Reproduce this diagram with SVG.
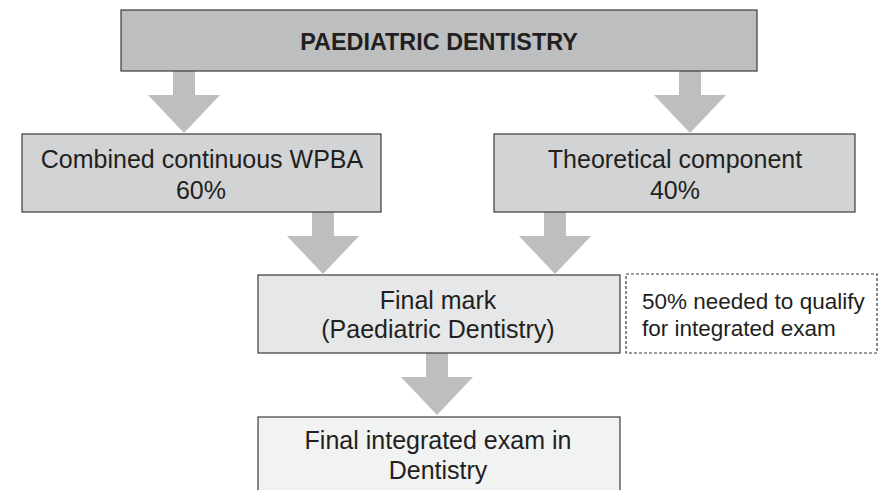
<svg xmlns="http://www.w3.org/2000/svg" width="880" height="490" viewBox="0 0 880 490">
<style>
.box{stroke:#3a3a3a;stroke-width:1.2}
.t{font-family:"Liberation Sans",Arial,sans-serif;font-size:25px;fill:#231f20;text-anchor:middle}
.title{font-weight:bold;font-size:23.4px}
.note{font-size:22.5px;text-anchor:start}
.arrow{fill:#bcbec0;stroke:none}
</style>
<defs>
<path id="arr" d="M-11,0 H11 V24 H36 L0,62 L-36,24 H-11 Z"/>
</defs>
<rect width="880" height="490" fill="#ffffff"/>
<g id="connectors">
<use href="#arr" class="arrow" transform="translate(184,71)"/>
<use href="#arr" class="arrow" transform="translate(690,71)"/>
<use href="#arr" class="arrow" transform="translate(323,212)"/>
<use href="#arr" class="arrow" transform="translate(555,212)"/>
<use href="#arr" class="arrow" transform="translate(437,353)"/>
</g>
<g id="top">
<rect class="box" x="121" y="10" width="636" height="61" fill="#bcbec0"/>
<text class="t title" x="439" y="50">PAEDIATRIC DENTISTRY</text>
</g>
<g id="wpba">
<rect class="box" x="22" y="134" width="359" height="78" fill="#d1d3d4"/>
<text class="t" x="202" y="168">Combined continuous WPBA</text>
<text class="t" x="201" y="199">60%</text>
</g>
<g id="theory">
<rect class="box" x="494" y="134" width="361" height="78" fill="#d1d3d4"/>
<text class="t" x="675" y="168">Theoretical component</text>
<text class="t" x="675" y="199">40%</text>
</g>
<g id="finalmark">
<rect class="box" x="258" y="275" width="362" height="78" fill="#e6e7e8"/>
<text class="t" x="438" y="309">Final mark</text>
<text class="t" x="438" y="338">(Paediatric Dentistry)</text>
</g>
<g id="note">
<rect x="626" y="274" width="251" height="79" fill="none" stroke="#3a3a3a" stroke-width="1.2" stroke-dasharray="3,2"/>
<text class="t note" x="642" y="309">50% needed to qualify</text>
<text class="t note" x="642" y="336">for integrated exam</text>
</g>
<g id="integrated">
<rect class="box" x="258" y="417" width="362" height="80" fill="#f1f2f2"/>
<text class="t" x="438" y="449">Final integrated exam in</text>
<text class="t" x="438" y="479">Dentistry</text>
</g>
</svg>
